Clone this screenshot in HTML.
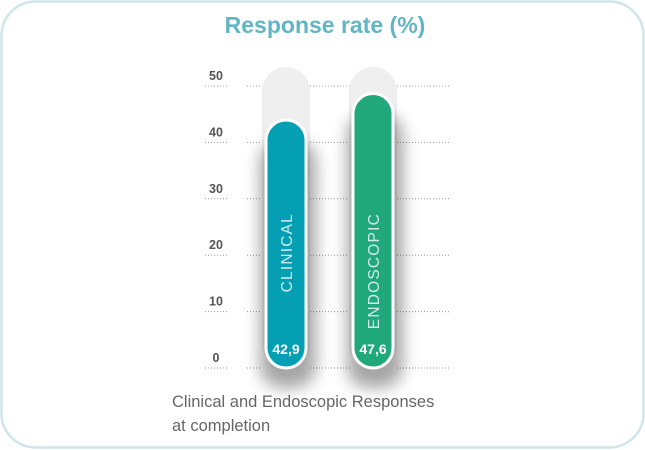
<!DOCTYPE html>
<html><head><meta charset="utf-8"><style>
body{margin:0;background:#fff;}
svg{display:block;font-family:"Liberation Sans",sans-serif;}
</style></head><body>
<svg id="chart" width="645" height="450" viewBox="0 0 645 450">
<defs>
<filter id="sh" x="-80%" y="-20%" width="260%" height="150%"><feGaussianBlur stdDeviation="8"/></filter>
</defs>
<rect x="1.5" y="1.5" width="642" height="446" rx="34" fill="#fff" stroke="#cfe5ea" stroke-width="2.5"/>
<text x="325" y="33" text-anchor="middle" font-size="23" font-weight="bold" fill="#62b6c4">Response rate (%)</text>
<g id="grid"></g>
<g id="bars"></g>
<text x="172" y="407" font-size="16.5" fill="#666">Clinical and Endoscopic Responses</text>
<text x="172" y="431" font-size="16.5" fill="#666">at completion</text>
</svg>
<script>
const categories = ["CLINICAL", "ENDOSCOPIC"];
const values = [42.9, 47.6];
const valueLabels = ["42,9", "47,6"];
const ticks = [0, 10, 20, 30, 40, 50];
const colors = ["#049fb3", "#20a87a"];
const NS = "http://www.w3.org/2000/svg";
const y0 = 368, yTop = 86, maxV = 50;
function y(v){ return y0 - (v / maxV) * (y0 - yTop); }
const barX = [266, 353], barW = 40;
function mk(tag, attrs, parent){ const e = document.createElementNS(NS, tag); for (const k in attrs) e.setAttribute(k, attrs[k]); parent.appendChild(e); return e; }
const grid = document.getElementById("grid");
ticks.forEach(t => {
  const yy = y(t);
  const segs = [[205, 228], [247, 262], [310, 350], [397, 450]];
  segs.forEach(s => {
    const l = mk("line", {x1: s[0], x2: s[1], y1: yy, y2: yy, stroke: "#999", "stroke-width": 1, "stroke-dasharray": "1 2"}, grid);
    
    
  });
  const tx = mk("text", {x: 216, y: yy - 6, "text-anchor": "middle", "font-size": 12.5, "font-weight": "bold", fill: "#555"}, grid);
  tx.textContent = t;
  
  
});
const bars = document.getElementById("bars");
categories.forEach((c, i) => {
  const x = barX[i];
  const tr = mk("rect", {x: x - 4, y: y(50) - 19, width: barW + 8, height: y0 - y(50) + 19, rx: 24, fill: "#efefef"}, bars);
  
  
  const topY = y(values[i]) - 6;
  const sh = mk("rect", {x: x - 6, y: topY + 20, width: barW + 16, height: y0 - topY, rx: 22, fill: "#000", opacity: 0.35, filter: "url(#sh)"}, bars);
  
  
  const b = mk("rect", {x: x, y: topY, width: barW, height: y0 - topY, rx: 20, fill: colors[i], stroke: "#fff", "stroke-width": 3}, bars);
  
  
  const cx = x + barW / 2;
  const lab = mk("text", {x: cx, y: 213, "text-anchor": "end", "font-size": 15.5, "letter-spacing": 1.2, fill: "#d2ecec", transform: `rotate(-90 ${cx} 213)`, dy: 6}, bars);
  lab.textContent = c;
  
  
  const v = mk("text", {x: cx, y: y0 - 14, "text-anchor": "middle", "font-size": 14, "font-weight": "bold", fill: "#fff"}, bars);
  v.textContent = valueLabels[i];
  
  
});
</script>
</body></html>
